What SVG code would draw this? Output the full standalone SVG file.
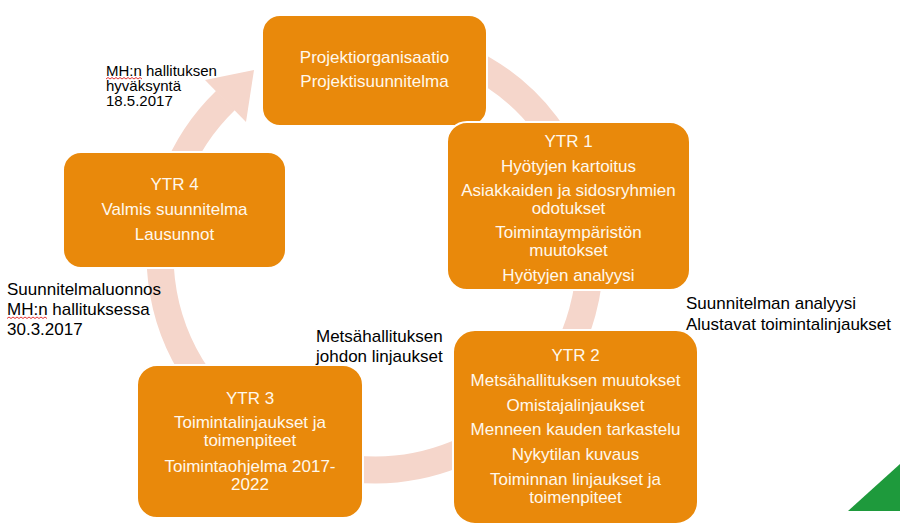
<svg xmlns="http://www.w3.org/2000/svg" width="900" height="527" viewBox="0 0 900 527">
<defs>
<style>
.box{fill:#E9890B;stroke:#FFFFFF;stroke-width:2}
.bt{font-family:"Liberation Sans",Arial,sans-serif;font-size:17px;fill:#FFF8EC;text-anchor:middle}
.lb{font-family:"Liberation Sans",Arial,sans-serif;font-size:17px;fill:#000000}
.ring{fill:none;stroke:#F5D6CB;stroke-width:27}
.sq{fill:none;stroke:#E02020;stroke-width:0.9}
</style>
</defs>
<rect width="900" height="527" fill="#FFFFFF"/>
<g id="connectors">
<path class="ring" d="M 375 40 A 215 215 0 1 1 225.6 100.4"/>
<polygon points="254,70 205,80 246,122" fill="#F5D6CB"/>
</g>
<g id="node-top">
<rect class="box" x="262" y="15" width="225" height="111" rx="18"/>
<text class="bt" x="374.5" y="63">Projektiorganisaatio</text>
<text class="bt" x="374.5" y="87">Projektisuunnitelma</text>
</g>
<g id="node-ytr1">
<rect class="box" x="447" y="122" width="243" height="168" rx="20"/>
<text class="bt" x="568.5" y="147">YTR 1</text>
<text class="bt" x="568.5" y="172">Hyötyjen kartoitus</text>
<text class="bt" x="568.5" y="196">Asiakkaiden ja sidosryhmien</text>
<text class="bt" x="568.5" y="214">odotukset</text>
<text class="bt" x="568.5" y="238">Toimintaympäristön</text>
<text class="bt" x="568.5" y="256">muutokset</text>
<text class="bt" x="568.5" y="281">Hyötyjen analyysi</text>
</g>
<g id="node-ytr2">
<rect class="box" x="453" y="330" width="245" height="194" rx="22"/>
<text class="bt" x="575.5" y="361">YTR 2</text>
<text class="bt" x="575.5" y="386">Metsähallituksen muutokset</text>
<text class="bt" x="575.5" y="411">Omistajalinjaukset</text>
<text class="bt" x="575.5" y="435">Menneen kauden tarkastelu</text>
<text class="bt" x="575.5" y="460">Nykytilan kuvaus</text>
<text class="bt" x="575.5" y="485">Toiminnan linjaukset ja</text>
<text class="bt" x="575.5" y="503">toimenpiteet</text>
</g>
<g id="node-ytr3">
<rect class="box" x="137" y="365" width="226" height="153" rx="20"/>
<text class="bt" x="250" y="404">YTR 3</text>
<text class="bt" x="250" y="428">Toimintalinjaukset ja</text>
<text class="bt" x="250" y="446">toimenpiteet</text>
<text class="bt" x="250" y="472">Toimintaohjelma 2017-</text>
<text class="bt" x="250" y="490">2022</text>
</g>
<g id="node-ytr4">
<rect class="box" x="63" y="152" width="223" height="116" rx="18"/>
<text class="bt" x="174.5" y="190">YTR 4</text>
<text class="bt" x="174.5" y="215">Valmis suunnitelma</text>
<text class="bt" x="174.5" y="240">Lausunnot</text>
</g>
<g id="label-hyvaksynta">
<text class="lb" style="font-size:15px" x="106" y="76">MH:n hallituksen</text>
<text class="lb" style="font-size:15px" x="106" y="91">hyväksyntä</text>
<text class="lb" style="font-size:15px" x="106" y="106">18.5.2017</text>
<polyline class="sq" points="106,79 108,77.5 110,79 112,77.5 114,79 116,77.5 118,79 120,77.5 122,79 124,77.5 126,79 128,77.5 130,79 132,77.5 134,79 136,77.5 138,79 140,77.5 142,79"/>
</g>
<g id="label-luonnos">
<text class="lb" x="7" y="295">Suunnitelmaluonnos</text>
<text class="lb" x="7" y="315">MH:n hallituksessa</text>
<text class="lb" x="7" y="335">30.3.2017</text>
<polyline class="sq" points="7,318.5 9,317 11,318.5 13,317 15,318.5 17,317 19,318.5 21,317 23,318.5 25,317 27,318.5 29,317 31,318.5 33,317 35,318.5 37,317 39,318.5 41,317 43,318.5 45,317 47,318.5"/>
</g>
<g id="label-johto">
<text class="lb" x="316" y="342">Metsähallituksen</text>
<text class="lb" x="316" y="362">johdon linjaukset</text>
</g>
<g id="label-analyysi">
<text class="lb" x="686" y="309">Suunnitelman analyysi</text>
<text class="lb" x="686" y="330">Alustavat toimintalinjaukset</text>
</g>
<polygon points="848,511 900,464 900,511" fill="#1E9A3C"/>
</svg>
